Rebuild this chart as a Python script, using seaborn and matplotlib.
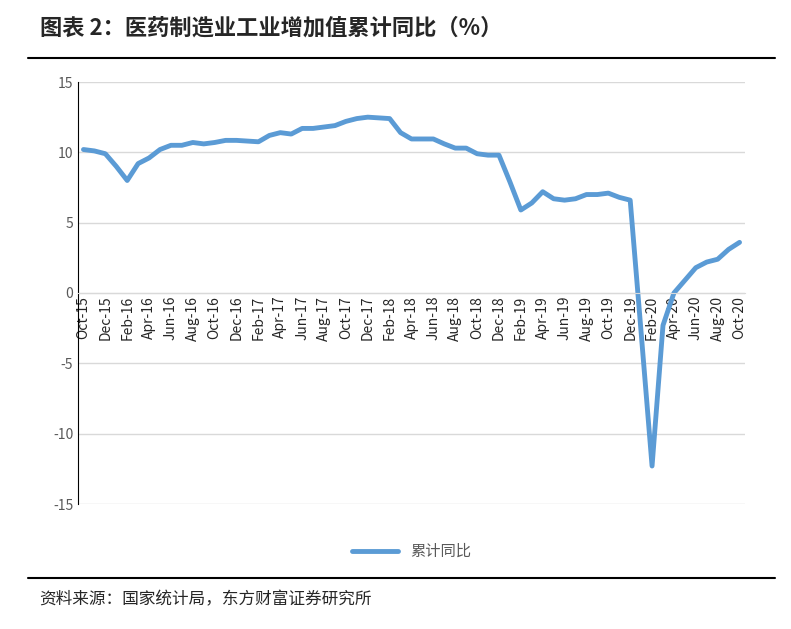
import numpy as np
import pandas as pd
import matplotlib
matplotlib.use('Agg')
import matplotlib.pyplot as plt
import seaborn as sns

sns.set_style('white')
plt.rcParams['font.family'] = ['Noto Sans CJK SC', 'DejaVu Sans']
plt.rcParams['axes.unicode_minus'] = False

months = pd.date_range('2015-10-01', '2020-10-01', freq='MS')
values = [10.2, 10.1, 9.9, 9.0, 8.0, 9.2, 9.6, 10.2, 10.5, 10.5, 10.7, 10.6, 10.7,
          10.85, 10.85, 10.8, 10.75, 11.2, 11.4, 11.3, 11.7, 11.7, 11.8, 11.9, 12.2,
          12.4, 12.5, 12.45, 12.4, 11.4, 10.95, 10.95, 10.95, 10.6, 10.3, 10.3, 9.9,
          9.8, 9.8, 7.9, 5.9, 6.4, 7.2, 6.7, 6.6, 6.7, 7.0, 7.0, 7.1, 6.8, 6.6,
          -2.8, -12.3, -2.3, 0.0, 0.9, 1.8, 2.2, 2.4, 3.1, 3.6]
labels = [m.strftime('%b-%y') for m in months]
df = pd.DataFrame({'idx': np.arange(len(values)), '累计同比': values})

fig = plt.figure(figsize=(7.91, 6.29), dpi=100)
ax = fig.add_axes([78/791, 1-504/629, 667/791, 422/629])
sns.lineplot(data=df, x='idx', y='累计同比', ax=ax, color='#5b9bd5', lw=3.5, label='累计同比')

ax.set_ylim(-15, 15)
ax.set_yticks(range(-15, 16, 5))
ax.set_xlim(-0.5, len(values) - 0.5)
ax.set_xticks(df['idx'][::2])
ax.set_xticklabels(labels[::2], fontsize=9, color='#595959', family='DejaVu Sans')
ax.tick_params(axis='x', length=0, pad=2, labelrotation=90)
ax.tick_params(axis='y', labelsize=10, labelcolor='#595959', length=0)
ax.grid(axis='y', color='#d9d9d9', lw=1)
for s in ['top', 'right']:
    ax.spines[s].set_visible(False)
ax.spines['left'].set_color('black')
ax.spines['bottom'].set_position(('data', 0))
ax.spines['bottom'].set_color('#d9d9d9')
ax.set_xlabel('')
ax.set_ylabel('')
ax.legend(loc='upper center', bbox_to_anchor=(0.5, -0.06), frameon=False,
          fontsize=11, labelcolor='#595959', handlelength=3)

fig.text(0.05, 0.945, '图表 2：医药制造业工业增加值累计同比（%）', fontsize=16, weight='bold')
fig.add_artist(plt.Line2D([0.035, 0.98], [0.907, 0.907], color='black', lw=1.5))
fig.add_artist(plt.Line2D([0.035, 0.98], [0.081, 0.081], color='black', lw=1.5))
fig.text(0.05, 0.04, '资料来源：国家统计局，东方财富证券研究所', fontsize=12)

fig.savefig('out.png', dpi=100)
